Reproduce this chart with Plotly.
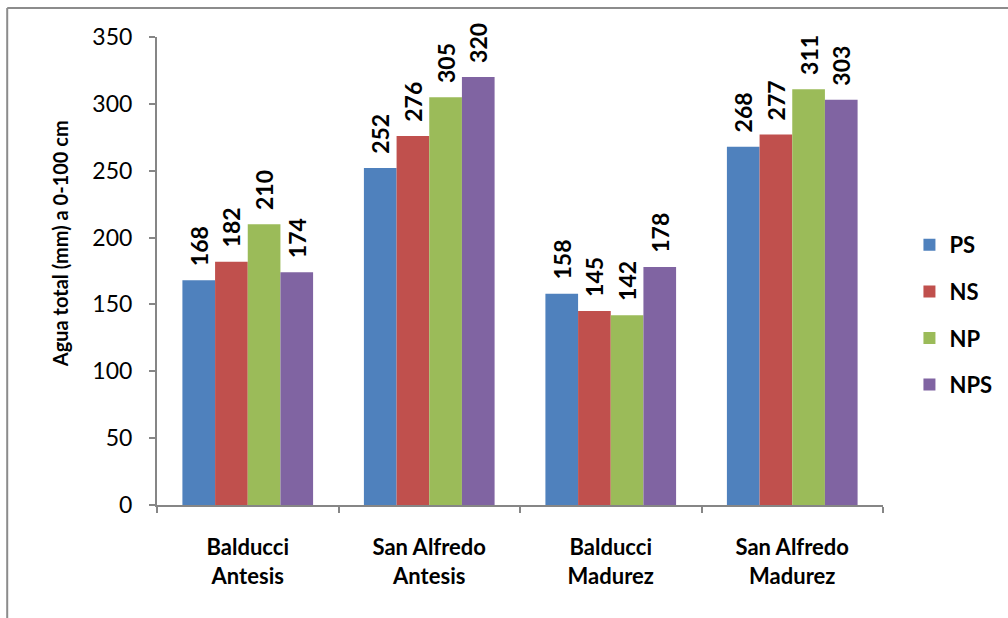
import plotly.graph_objects as go

# Soil water data (mm, 0-100 cm) by site/stage and fertilization treatment
categories = ["Balducci<br>Antesis", "San Alfredo<br>Antesis", "Balducci<br>Madurez", "San Alfredo<br>Madurez"]
series_names = ["PS", "NS", "NP", "NPS"]
ps_values = [168, 252, 158, 268]
ns_values = [182, 276, 145, 277]
np_values = [210, 305, 142, 311]
nps_values = [174, 320, 178, 303]
y_ticks = [0, 50, 100, 150, 200, 250, 300, 350]
y_title = "Agua total (mm) a 0-100 cm"

colors = ["#4F81BD", "#C0504D", "#9BBB59", "#8064A2"]
all_values = [ps_values, ns_values, np_values, nps_values]

FONT = "Lato"
W, H = 1008, 618
# plot-area pixel bounds
L, R, T, B = 157, 884, 37, 505

fig = go.Figure()
for name, vals, col in zip(series_names, all_values, colors):
    fig.add_trace(go.Bar(
        name=name,
        x=categories,
        y=vals,
        marker=dict(color=col, line=dict(width=0)),
        # non-breaking spaces lift the rotated value label off the bar top
        text=["\u00a0\u00a0" + str(v) for v in vals],
        textposition="outside",
        textangle=-90,
        constraintext="none",
        cliponaxis=False,
        textfont=dict(family=FONT, size=23, color="#000000", weight="bold"),
        legendgroup=name,
    ))


def px_to_paper_x(px):
    return (px - L) / (R - L)


def px_to_paper_y(py):
    return (B - py) / (B - T)


fig.update_layout(
    width=W,
    height=H,
    margin=dict(l=L, r=W - R, t=T, b=H - B),
    paper_bgcolor="white",
    plot_bgcolor="white",
    barmode="group",
    bargap=0.28,
    bargroupgap=0,
    showlegend=True,
    legend=dict(
        x=1.035,
        y=px_to_paper_y(315),
        xanchor="left",
        yanchor="middle",
        font=dict(family=FONT, size=22, color="#000000", weight="bold"),
        tracegroupgap=15,
        itemwidth=30,
        bgcolor="rgba(0,0,0,0)",
    ),
    font=dict(family=FONT, color="#000000"),
    xaxis=dict(
        type="category",
        tickson="boundaries",
        ticks="outside",
        ticklen=6,
        tickwidth=2,
        tickcolor="#868686",
        showline=True,
        linecolor="#868686",
        linewidth=2,
        showgrid=False,
        tickfont=dict(family=FONT, size=22, color="#000000", weight="bold"),
        ticklabelstandoff=22,
    ),
    yaxis=dict(
        range=[0, 350],
        tickvals=y_ticks,
        ticks="outside",
        ticklen=6,
        tickwidth=2,
        tickcolor="#868686",
        showline=True,
        linecolor="#868686",
        linewidth=2,
        showgrid=False,
        zeroline=False,
        tickfont=dict(family=FONT, size=23, color="#000000"),
        ticklabelstandoff=12,
    ),
    annotations=[
        # y-axis title, placed slightly above the axis midpoint
        dict(text=y_title, textangle=-90, showarrow=False,
             xref="paper", yref="paper",
             x=px_to_paper_x(60), y=px_to_paper_y(244),
             xanchor="center", yanchor="middle",
             font=dict(family=FONT, size=20, color="#000000", weight="bold")),
    ],
    shapes=[
        # chart frame (top and left edges)
        dict(type="line", xref="paper", yref="paper",
             x0=px_to_paper_x(7), x1=px_to_paper_x(W + 5),
             y0=px_to_paper_y(8), y1=px_to_paper_y(8),
             line=dict(color="#8C8C8C", width=2)),
        dict(type="line", xref="paper", yref="paper",
             x0=px_to_paper_x(7), x1=px_to_paper_x(7),
             y0=px_to_paper_y(8), y1=px_to_paper_y(H + 5),
             line=dict(color="#8C8C8C", width=2)),
    ],
)

fig.write_html("out.html")
